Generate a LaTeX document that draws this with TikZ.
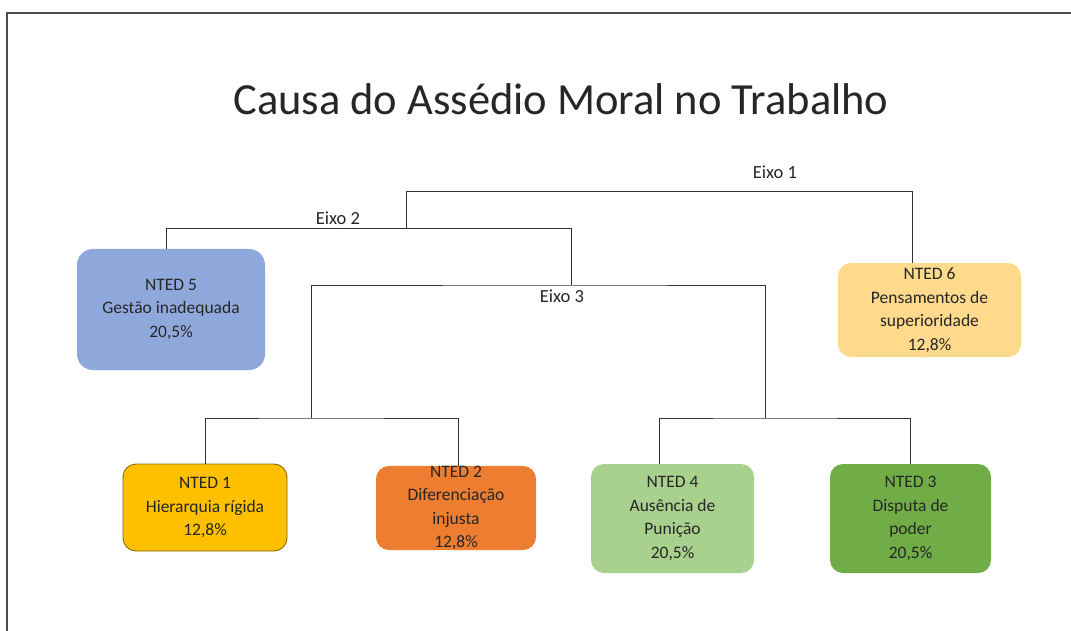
\documentclass[tikz,border=0pt]{standalone}
\usepackage{fontspec}
\setmainfont{Carlito}
\begin{document}
\begin{tikzpicture}[x=1pt,y=-1pt,
  box/.style={rounded corners=13pt, align=center, inner sep=0pt, font=\fontsize{17.5}{23.5}\selectfont, text=black!85},
  conn/.style={draw=black!80, line width=1pt},
  lbl/.style={font=\fontsize{18.5}{22}\selectfont, text=black!85}]
\definecolor{cblue}{HTML}{8FA8DC}
\definecolor{cpeach}{HTML}{FFD98C}
\definecolor{cyel}{HTML}{FFC000}
\definecolor{cyelb}{HTML}{7F6000}
\definecolor{corg}{HTML}{ED7D31}
\definecolor{clg}{HTML}{A9D18E}
\definecolor{cdg}{HTML}{70AD47}
\useasboundingbox[fill=white] (0,0) rectangle (1071,631);
\draw[black!70, line width=1.2pt] (7,631) -- (7,13) -- (1071,13);
\node[font=\fontsize{44.5}{50}\selectfont, text=black!85] (title) at (561,99) {Causa do Assédio Moral no Trabalho};

\node[box, fill=cblue, minimum width=188pt, minimum height=121pt, rounded corners=16pt] (n5) at (171,309.5) {NTED 5\\Gestão inadequada\\20,5\%};
\node[box, fill=cpeach, minimum width=183pt, minimum height=94pt] (n6) at (929.5,310) {NTED 6\\Pensamentos de\\superioridade\\12,8\%};
\node[box, fill=cyel, draw=cyelb, line width=0.8pt, minimum width=164pt, minimum height=87pt] (n1) at (205,507.5) {NTED 1\\Hierarquia rígida\\12,8\%};
\node[box, fill=corg, minimum width=160pt, minimum height=84pt] (n2) at (456,508) {NTED 2\\Diferenciação\\injusta\\12,8\%};
\node[box, fill=clg, minimum width=163pt, minimum height=109pt] (n4) at (672.5,518.5) {NTED 4\\Ausência de\\Punição\\20,5\%};
\node[box, fill=cdg, minimum width=161pt, minimum height=109pt] (n3) at (910.5,518.5) {NTED 3\\Disputa de\\poder\\20,5\%};

\coordinate (a1) at (406,229);
\coordinate (top1) at (406,192);
\coordinate (c2) at (571,229);
\coordinate (c3) at (571,285);
\coordinate (d1) at (311,418);
\coordinate (d2) at (765,418);

\draw[conn] (a1) -- (top1) -| ([xshift=-17.5pt]n6.north);
\draw[conn] ([xshift=-5pt]n5.north) |- (c2) -- (c3);
\draw[conn] (d1) |- (c3) -| (d2);
\draw[conn] (n1.north) |- (d1) -| ([xshift=2pt]n2.north);
\draw[conn] ([xshift=-13.5pt]n4.north) |- (d2) -| (n3.north);

\node[lbl] (e1) at (775,172) {Eixo 1};
\node[lbl] (e2) at (338,218) {Eixo 2};
\node[lbl] (e3) at (562,296) {Eixo 3};
\end{tikzpicture}
\end{document}
